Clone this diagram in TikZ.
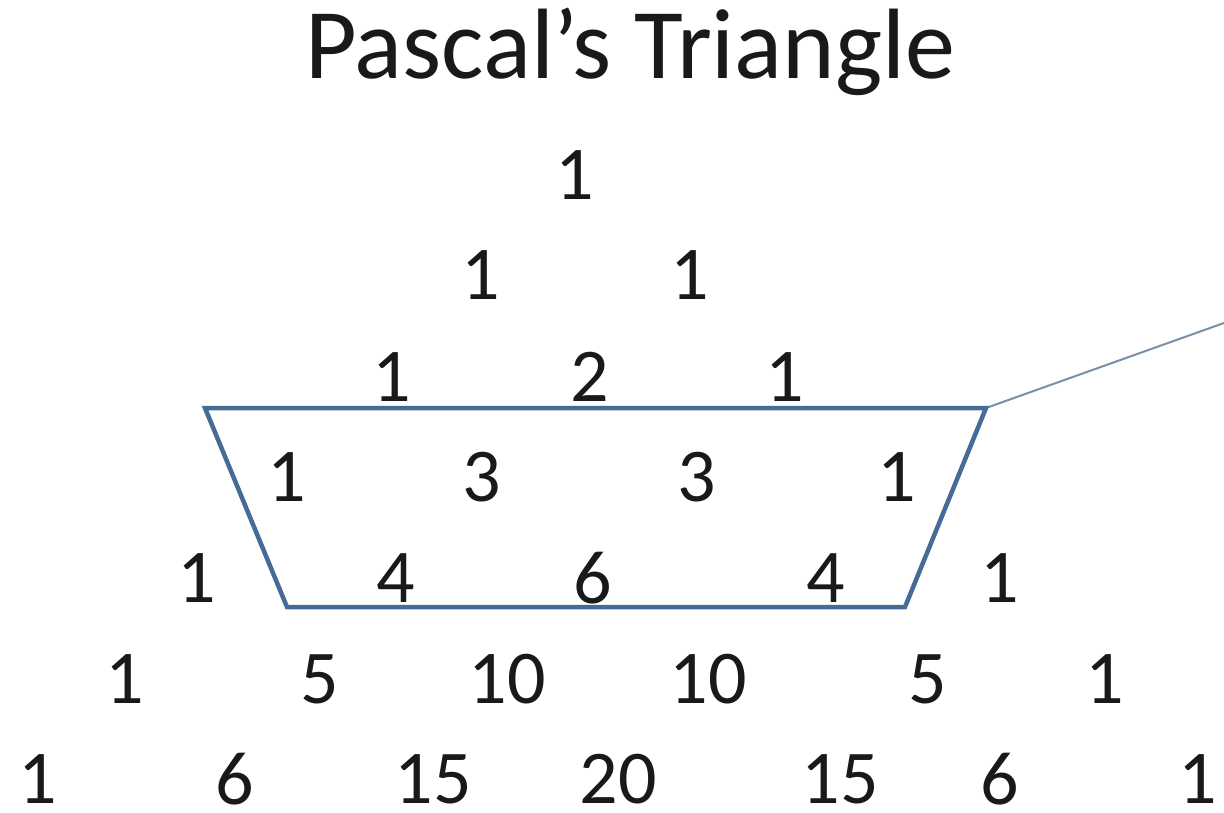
\documentclass[tikz,border=0pt]{standalone}
\usepackage{fontspec}
\setmainfont{Carlito}
\begin{document}
\begin{tikzpicture}[x=1pt,y=-1pt,
  num/.style={inner sep=0pt, font=\fontsize{76}{80}\selectfont, text=black!90},
  ttl/.style={inner sep=0pt, font=\fontsize{100}{110}\selectfont, text=black!90},
  trap/.style={draw={rgb,255:red,68;green,108;blue,150}, line width=4.5pt, line join=miter},
  conn/.style={draw={rgb,255:red,120;green,145;blue,170}, line width=2pt}]
\useasboundingbox[fill=white] (0,0) rectangle (1224,813);
\node[ttl] (title) at (630,52) {Pascal’s Triangle};
% row 0
\node[num] (r0a) at (575,175) {1};
% row 1
\node[num] (r1a) at (481,275) {1};
\node[num] (r1b) at (690,275) {1};
% row 2
\node[num] (r2a) at (392,377) {1};
\node[num] (r2b) at (590,377) {2};
\node[num] (r2c) at (785,377) {1};
% row 3
\node[num] (r3a) at (287,477) {1};
\node[num] (r3b) at (482,477) {3};
\node[num] (r3c) at (697,477) {3};
\node[num] (r3d) at (897,477) {1};
% row 4
\node[num] (r4a) at (197,578) {1};
\node[num] (r4b) at (396,578) {4};
\node[num] (r4c) at (593,578) {6};
\node[num] (r4d) at (826,578) {4};
\node[num] (r4e) at (1000,578) {1};
% row 5
\node[num] (r5a) at (125,679) {1};
\node[num] (r5b) at (320,679) {5};
\node[num] (r5c) at (507,679) {10};
\node[num] (r5d) at (708,679) {10};
\node[num] (r5e) at (928,679) {5};
\node[num] (r5f) at (1105,679) {1};
% row 6
\node[num] (r6a) at (38,779) {1};
\node[num] (r6b) at (235,779) {6};
\node[num] (r6c) at (433,779) {15};
\node[num] (r6d) at (618,779) {20};
\node[num] (r6e) at (840,779) {15};
\node[num] (r6f) at (1000,779) {6};
\node[num] (r6g) at (1198,779) {1};
% trapezoid
\coordinate (tl) at (205,408);
\coordinate (tr) at (986,408);
\coordinate (br) at (905,607);
\coordinate (bl) at (287,607);
\coordinate (callout) at (1224,323);
\draw[conn] (tr) -- (callout);
\draw[trap] (tl) -- (tr) -- (br) -- (bl) -- cycle;
\end{tikzpicture}
\end{document}
